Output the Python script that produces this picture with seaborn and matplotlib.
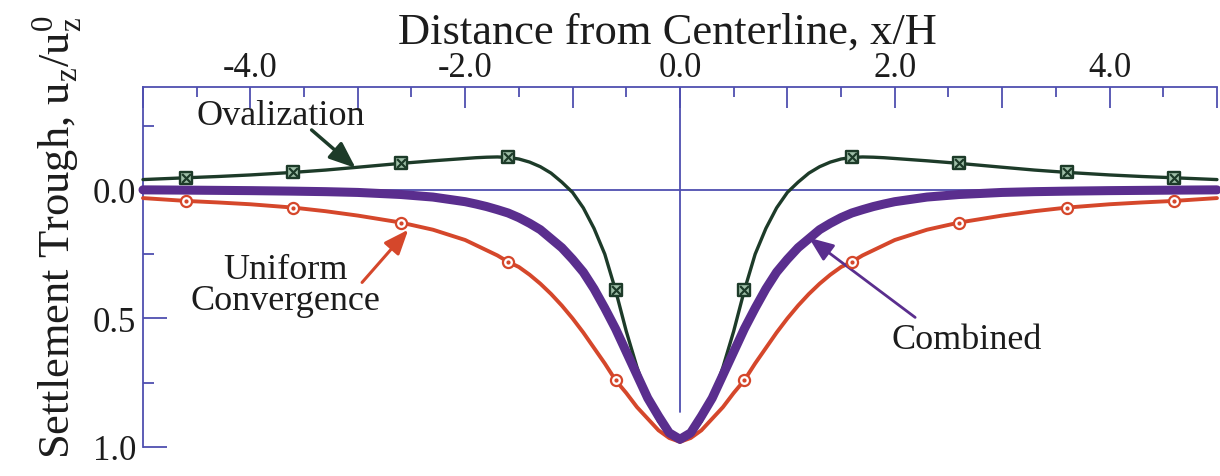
import numpy as np
import pandas as pd
import seaborn as sns
from matplotlib import pyplot as plt
from matplotlib.ticker import MultipleLocator, FixedLocator, FuncFormatter

# values (x/H vs u_z/u_z0, axis inverted)
x_pos = [-5.0, -4.6, -4.3, -4.0, -3.6, -3.3, -3.0, -2.6, -2.3, -2.0, -1.9, -1.8, -1.7,
         -1.6, -1.5, -1.4, -1.3, -1.2, -1.1, -1.0, -0.9, -0.8, -0.7, -0.6, -0.5, -0.4,
         -0.3, -0.2, -0.1, 0.0, 0.1, 0.2, 0.3, 0.4, 0.5, 0.6, 0.7, 0.8, 0.9, 1.0, 1.1,
         1.2, 1.3, 1.4, 1.5, 1.6, 1.7, 1.8, 1.9, 2.0, 2.3, 2.6, 3.0, 3.3, 3.6, 4.0, 4.3,
         4.6, 5.0]
oval = [-0.040, -0.047, -0.052, -0.058, -0.068, -0.077, -0.088, -0.103, -0.113, -0.122,
        -0.125, -0.127, -0.128, -0.126, -0.120, -0.108, -0.090, -0.065, -0.030, 0.010,
        0.070, 0.150, 0.250, 0.390, 0.550, 0.690, 0.810, 0.900, 0.955, 0.980, 0.955,
        0.900, 0.810, 0.690, 0.550, 0.390, 0.250, 0.150, 0.070, 0.010, -0.030, -0.065,
        -0.090, -0.108, -0.120, -0.126, -0.128, -0.127, -0.125, -0.122, -0.113, -0.103,
        -0.088, -0.077, -0.068, -0.058, -0.052, -0.047, -0.040]
uniform = [0.032, 0.043, 0.049, 0.056, 0.069, 0.083, 0.100, 0.127, 0.155, 0.195, 0.215,
           0.235, 0.255, 0.280, 0.300, 0.330, 0.365, 0.405, 0.450, 0.500, 0.555, 0.615,
           0.675, 0.740, 0.790, 0.845, 0.890, 0.935, 0.965, 0.980, 0.965, 0.935, 0.890,
           0.845, 0.790, 0.740, 0.675, 0.615, 0.555, 0.500, 0.450, 0.405, 0.365, 0.330,
           0.300, 0.280, 0.255, 0.235, 0.215, 0.195, 0.155, 0.127, 0.100, 0.083, 0.069,
           0.056, 0.049, 0.043, 0.032]
combined = [0.000, 0.001, 0.002, 0.003, 0.005, 0.007, 0.010, 0.018, 0.028, 0.046, 0.055,
            0.065, 0.077, 0.090, 0.108, 0.130, 0.155, 0.190, 0.225, 0.270, 0.320, 0.385,
            0.460, 0.540, 0.630, 0.720, 0.810, 0.880, 0.945, 0.970, 0.945, 0.880, 0.810,
            0.720, 0.630, 0.540, 0.460, 0.385, 0.320, 0.270, 0.225, 0.190, 0.155, 0.130,
            0.108, 0.090, 0.077, 0.065, 0.055, 0.046, 0.028, 0.018, 0.010, 0.007, 0.005,
            0.003, 0.002, 0.001, 0.000]
marker_x = [-4.6, -3.6, -2.6, -1.6, -0.6, 0.6, 1.6, 2.6, 3.6, 4.6]
y_major = [0.0, 0.5, 1.0]
y_minor = [-0.25, 0.25, 0.75]

df = pd.DataFrame({'x': x_pos, 'Ovalization': oval,
                   'Uniform': uniform, 'Combined': combined})
marks = df[df['x'].round(1).isin(marker_x)]

green = '#1d3b29'
red = '#d5472b'
purple = '#5a2e8e'
axis_blue = '#4f4fb0'
ink = '#1c1c1c'

sns.set_theme(style='ticks')
plt.rcParams['font.family'] = ['Liberation Serif', 'DejaVu Serif']
plt.rcParams['mathtext.fontset'] = 'custom'
plt.rcParams['mathtext.rm'] = 'Liberation Serif'
plt.rcParams['axes.unicode_minus'] = False

fig = plt.figure(figsize=(12.2, 4.77), dpi=100)
ax = fig.add_axes([0.1172, 0.0608, 0.8803, 0.7547])

ax.axhline(0, color=axis_blue, lw=1.3, zorder=1)
ax.axvline(0, ymin=0.096, ymax=1, color=axis_blue, lw=1.3, zorder=1)

sns.lineplot(data=df, x='x', y='Uniform', ax=ax, color=red, lw=2.8, zorder=3, clip_on=False)
sns.lineplot(data=df, x='x', y='Ovalization', ax=ax, color=green, lw=2.4, zorder=4, clip_on=False)
sns.lineplot(data=df, x='x', y='Combined', ax=ax, color=purple, lw=6.5, zorder=5, clip_on=False)

# markers
sns.scatterplot(data=marks, x='x', y='Ovalization', ax=ax, marker='s', s=64,
                facecolor='#9fbfa8', edgecolor=green, linewidth=1.7, zorder=6)
ax.scatter(marks['x'], marks['Ovalization'], marker='x', s=40, c=green, lw=1.6, zorder=7)
sns.scatterplot(data=marks, x='x', y='Uniform', ax=ax, marker='o', s=64,
                facecolor='white', edgecolor=red, linewidth=1.6, zorder=6)
ax.scatter(marks['x'], marks['Uniform'], marker='o', s=4, c=red, zorder=7)

ax.set_xlim(-5, 5)
ax.set_ylim(1.0, -0.4)

ax.xaxis.tick_top()
ax.xaxis.set_label_position('top')
ax.xaxis.set_major_locator(MultipleLocator(1.0))
ax.xaxis.set_minor_locator(MultipleLocator(0.5))
ax.xaxis.set_major_formatter(FuncFormatter(
    lambda v, _: f'{v:.1f}'.replace('-0.0', '0.0') if round(v) % 2 == 0 else ''))
ax.yaxis.set_major_locator(FixedLocator(y_major))
ax.yaxis.set_minor_locator(FixedLocator(y_minor))
ax.yaxis.set_major_formatter(FuncFormatter(lambda v, _: f'{v:.1f}'))

ax.tick_params(axis='x', which='major', direction='in', length=15, width=1.3,
               color=axis_blue, labelcolor=ink, labelsize=25, pad=2)
ax.tick_params(axis='x', which='minor', direction='in', length=7, width=1.3, color=axis_blue)
ax.tick_params(axis='y', which='major', direction='in', length=17, width=1.3,
               color=axis_blue, labelcolor=ink, labelsize=25, pad=5)
ax.tick_params(axis='y', which='minor', direction='in', length=8, width=1.3, color=axis_blue)

for side in ['right', 'bottom']:
    ax.spines[side].set_visible(False)
for side in ['top', 'left']:
    ax.spines[side].set_color(axis_blue)
    ax.spines[side].set_linewidth(1.3)

ax.set_xlabel('Distance from Centerline, x/H', fontsize=32, color=ink)
ax.xaxis.set_label_coords(0.488, 1.123)
ax.set_ylabel(r'Settlement Trough, u$_\mathrm{z}$/u$_\mathrm{z}^\mathrm{0}$', fontsize=32, color=ink)
ax.yaxis.set_label_coords(-0.054, 0.585)

# labels with arrows
ax.text(-3.72, -0.29, 'Ovalization', fontsize=26, color=ink, ha='center', va='center')
ax.annotate('', xy=(-3.02, -0.085), xytext=(-3.43, -0.233),
            arrowprops=dict(arrowstyle='-|>,head_length=0.8,head_width=0.32', color=green,
                            lw=2.5, mutation_scale=20, shrinkA=0, shrinkB=0))
ax.text(-3.67, 0.37, 'Uniform\nConvergence', fontsize=26, color=ink, ha='center',
        va='center', linespacing=0.95)
ax.annotate('', xy=(-2.53, 0.155), xytext=(-2.96, 0.36),
            arrowprops=dict(arrowstyle='-|>,head_length=0.75,head_width=0.3', color=red,
                            lw=2.2, mutation_scale=20, shrinkA=0, shrinkB=0))
ax.text(2.67, 0.58, 'Combined', fontsize=26, color=ink, ha='center', va='center')
ax.annotate('', xy=(1.20, 0.186), xytext=(2.19, 0.496),
            arrowprops=dict(arrowstyle='-|>,head_length=0.75,head_width=0.3', color=purple,
                            lw=2.0, mutation_scale=20, shrinkA=0, shrinkB=0))

fig.savefig('out.png', dpi=100)
plt.close()
